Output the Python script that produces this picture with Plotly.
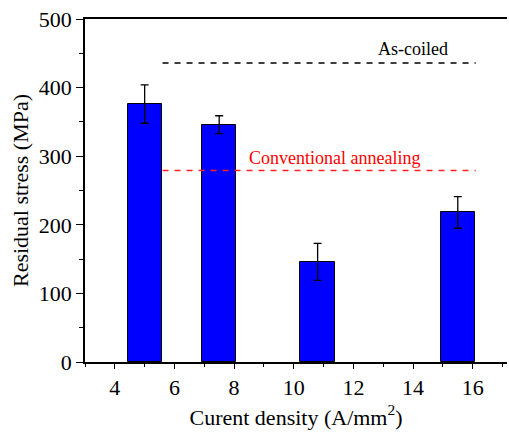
import plotly.graph_objects as go

current_density = [5.0, 7.5, 10.8, 15.5]
residual_stress = [376, 346, 146, 218]
stress_error = [28, 13, 27, 23]

ref_x = [5.6, 16.1]
as_coiled = 436
conventional = 279

x_ticks = [4, 6, 8, 10, 12, 14, 16]
y_ticks = [0, 100, 200, 300, 400, 500]

FONT = "Times New Roman, Liberation Serif, DejaVu Serif, serif"

fig = go.Figure()
fig.add_trace(go.Bar(
    x=current_density, y=residual_stress, width=1.15,
    marker=dict(color="#0000ff", line=dict(color="black", width=1)),
    error_y=dict(type="data", array=stress_error, color="black", thickness=1.3, width=4),
    showlegend=False,
))
fig.add_trace(go.Scatter(
    x=ref_x, y=[as_coiled, as_coiled], mode="lines",
    line=dict(color="black", width=1.5, dash="6px,6px"), showlegend=False,
))
fig.add_trace(go.Scatter(
    x=ref_x, y=[conventional, conventional], mode="lines",
    line=dict(color="#ff2020", width=1.5, dash="6px,6px"), showlegend=False,
))
fig.add_annotation(x=14.0, y=456, text="As-coiled", showarrow=False,
                   font=dict(family=FONT, size=18, color="black"))
fig.add_annotation(x=11.37, y=298, text="Conventional annealing", showarrow=False,
                   font=dict(family=FONT, size=18, color="red"))

fig.update_layout(
    width=509, height=432,
    margin=dict(l=85, r=2, t=19, b=70),
    plot_bgcolor="white", paper_bgcolor="white",
    font=dict(family=FONT, size=22, color="black"),
    bargap=0,
)
fig.update_xaxes(
    range=[3, 17.15], tickvals=x_ticks, ticks="outside", ticklen=5, tickwidth=1.3,
    minor=dict(dtick=1, tick0=3, ticks="outside", ticklen=3, tickwidth=1.3, tickcolor="black"),
    showline=True, linecolor="black", linewidth=1.5, mirror=True, showgrid=False, zeroline=False,
    tickfont=dict(family=FONT, size=22, color="black"), tickcolor="black",
    title=dict(text="Curent density (A/mm<sup>2</sup>)", font=dict(family=FONT, size=22), standoff=10),
)
fig.update_yaxes(
    range=[0, 500], tickvals=y_ticks, ticks="outside", ticklen=7, tickwidth=1.3,
    minor=dict(dtick=50, tick0=0, ticks="outside", ticklen=4, tickwidth=1.3, tickcolor="black"),
    showline=True, linecolor="black", linewidth=1.5, mirror=False, showgrid=False, zeroline=False,
    tickfont=dict(family=FONT, size=22, color="black"), tickcolor="black",
    title=dict(text="Residual stress (MPa)", font=dict(family=FONT, size=22), standoff=4),
)
fig.write_html("out.html")
